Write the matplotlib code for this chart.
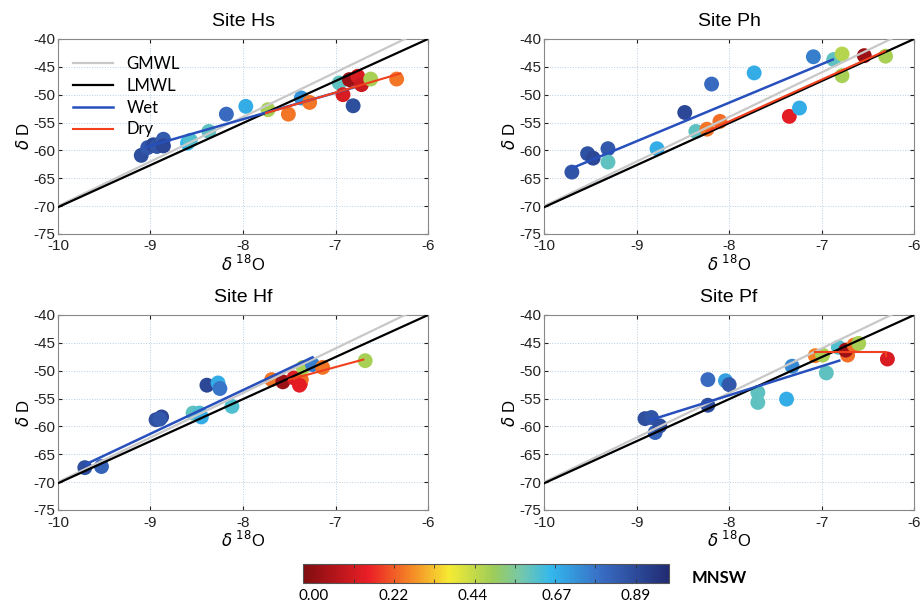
import matplotlib
matplotlib.use('Agg')
import matplotlib.pyplot as plt
from matplotlib.colors import LinearSegmentedColormap, Normalize
from matplotlib.cm import ScalarMappable

# ── Data ─────────────────────────────────────────────
# meteoric water lines (end points)
gmwl_x = [-10.0, -6.0]
gmwl_y = [-70.0, -38.0]
lmwl_x = [-10.0, -6.0]
lmwl_y = [-70.2, -40.0]

# Site Hs
hs_o = [-9.10, -9.03, -8.97, -8.93, -8.88, -8.86, -8.86, -8.60, -8.57, -8.37, -8.18, -7.97,
        -7.73, -7.51, -7.37, -7.28, -6.96, -6.92, -6.85, -6.76, -6.72, -6.81, -6.62, -6.34]
hs_d = [-60.9, -59.5, -59.0, -59.3, -58.6, -58.0, -59.2, -58.7, -58.2, -56.6, -53.5, -52.1,
        -52.7, -53.5, -50.6, -51.4, -47.9, -50.0, -47.3, -46.7, -48.2, -52.0, -47.2, -47.2]
hs_m = [0.88, 0.85, 0.90, 0.86, 0.88, 0.84, 0.90, 0.66, 0.62, 0.60, 0.80, 0.68,
        0.48, 0.25, 0.72, 0.25, 0.60, 0.12, 0.02, 0.12, 0.10, 0.88, 0.48, 0.25]
hs_wet_x = [-9.05, -6.80]
hs_wet_y = [-59.4, -48.7]
hs_dry_x = [-7.75, -6.30]
hs_dry_y = [-53.3, -46.2]

# Site Ph
ph_o = [-9.70, -9.53, -9.47, -9.31, -9.31, -8.78, -8.48, -8.36, -8.24, -8.10,
        -8.19, -7.73, -7.35, -7.24, -7.09, -6.87, -6.78, -6.78, -6.54, -6.31]
ph_d = [-63.9, -60.6, -61.4, -59.7, -62.1, -59.7, -53.2, -56.6, -56.2, -54.8,
        -48.1, -46.1, -53.9, -52.4, -43.2, -43.7, -42.7, -46.6, -43.0, -43.1]
ph_m = [0.86, 0.87, 0.90, 0.85, 0.60, 0.68, 0.90, 0.60, 0.25, 0.24,
        0.80, 0.68, 0.14, 0.68, 0.76, 0.60, 0.46, 0.48, 0.02, 0.48]
ph_wet_x = [-9.70, -6.88]
ph_wet_y = [-63.2, -43.7]
ph_dry_x = [-8.24, -6.32]
ph_dry_y = [-56.6, -42.2]

# Site Hf
hf_o = [-9.71, -9.53, -8.94, -8.88, -8.90, -8.54, -8.47, -8.45, -8.39, -8.27, -8.25,
        -8.12, -7.69, -7.57, -7.45, -7.38, -7.37, -7.39, -7.35, -7.25, -7.14, -6.68]
hf_d = [-67.4, -67.2, -58.8, -58.3, -58.7, -57.6, -57.6, -58.3, -52.6, -52.2, -53.2,
        -56.4, -51.6, -52.0, -51.3, -52.3, -51.6, -52.6, -49.4, -48.9, -49.4, -48.2]
hf_m = [0.88, 0.82, 0.88, 0.90, 0.85, 0.60, 0.62, 0.68, 0.90, 0.68, 0.78,
        0.62, 0.25, 0.02, 0.12, 0.12, 0.24, 0.14, 0.48, 0.76, 0.25, 0.48]
hf_wet_x = [-9.70, -7.25]
hf_wet_y = [-66.8, -47.6]
hf_dry_x = [-7.50, -6.70]
hf_dry_y = [-51.6, -48.0]

# Site Pf
pf_o = [-8.91, -8.84, -8.80, -8.75, -8.23, -8.23, -8.04, -8.00, -7.69, -7.69, -7.38,
        -7.32, -7.07, -6.99, -6.95, -6.82, -6.72, -6.74, -6.65, -6.60, -6.29]
pf_d = [-58.6, -58.4, -61.1, -59.9, -51.6, -56.2, -51.8, -52.5, -53.9, -55.7, -55.1,
        -49.2, -47.3, -47.2, -50.4, -45.8, -47.2, -46.3, -45.4, -45.1, -47.9]
pf_m = [0.88, 0.86, 0.82, 0.88, 0.80, 0.88, 0.70, 0.85, 0.60, 0.60, 0.68,
        0.74, 0.26, 0.48, 0.60, 0.62, 0.24, 0.02, 0.24, 0.48, 0.12]
pf_wet_x = [-8.85, -6.81]
pf_wet_y = [-58.85, -48.2]
pf_dry_x = [-7.07, -6.30, -6.30]
pf_dry_y = [-46.6, -46.6, -47.3]

sites = [
    ('Site Hs', hs_o, hs_d, hs_m, hs_wet_x, hs_wet_y, hs_dry_x, hs_dry_y),
    ('Site Ph', ph_o, ph_d, ph_m, ph_wet_x, ph_wet_y, ph_dry_x, ph_dry_y),
    ('Site Hf', hf_o, hf_d, hf_m, hf_wet_x, hf_wet_y, hf_dry_x, hf_dry_y),
    ('Site Pf', pf_o, pf_d, pf_m, pf_wet_x, pf_wet_y, pf_dry_x, pf_dry_y),
]

cbar_ticks = [0.0, 0.22, 0.44, 0.67, 0.89]
cbar_labels = ['0.00', '0.22', '0.44', '0.67', '0.89']

# ── Style ────────────────────────────────────────────
plt.rcParams['font.family'] = ['Liberation Sans', 'DejaVu Sans']
plt.rcParams['axes.unicode_minus'] = False

cmap = LinearSegmentedColormap.from_list('mnsw', [
    (0.00, (0.50, 0.05, 0.06)),
    (0.18, (0.92, 0.12, 0.15)),
    (0.30, (0.96, 0.55, 0.15)),
    (0.40, (0.96, 0.92, 0.20)),
    (0.52, (0.62, 0.80, 0.35)),
    (0.60, (0.45, 0.78, 0.68)),
    (0.68, (0.20, 0.72, 0.93)),
    (0.82, (0.22, 0.42, 0.76)),
    (1.00, (0.13, 0.17, 0.45)),
])
norm = Normalize(vmin=-0.03, vmax=0.98)

c_gmwl = '#c8c8c8'
c_lmwl = 'black'
c_wet = '#2750bc'
c_dry = '#f0401e'

fig = plt.figure(figsize=(9.23, 6.14), dpi=100)

positions = [
    [0.0628, 0.619, 0.401, 0.3176],
    [0.5895, 0.619, 0.401, 0.3176],
    [0.0628, 0.1694, 0.401, 0.3176],
    [0.5895, 0.1694, 0.401, 0.3176],
]

for pos, (title, xo, yd, mn, wx, wy, dx, dy) in zip(positions, sites):
    ax = fig.add_axes(pos)
    ax.grid(True, linestyle=':', color='#a8c4dc', linewidth=0.7, alpha=0.8)
    ax.set_axisbelow(True)

    ax.scatter(xo, yd, c=mn, cmap=cmap, norm=norm, s=115, edgecolors='none', zorder=2)

    ax.plot(gmwl_x, gmwl_y, color=c_gmwl, linewidth=1.6, label='GMWL', zorder=3)
    ax.plot(lmwl_x, lmwl_y, color=c_lmwl, linewidth=1.6, label='LMWL', zorder=3)
    ax.plot(wx, wy, color=c_wet, linewidth=1.8, label='Wet', zorder=4)
    ax.plot(dx, dy, color=c_dry, linewidth=1.5, label='Dry', zorder=4)

    ax.set_xlim(-10, -6)
    ax.set_ylim(-75, -40)
    ax.set_xticks([-10, -9, -8, -7, -6])
    ax.set_yticks(range(-75, -39, 5))
    ax.tick_params(direction='in', length=3, labelsize=11, colors='#222222',
                   top=True, right=True)
    ax.tick_params(axis='x', pad=4)
    ax.tick_params(axis='y', pad=2)
    for sp in ax.spines.values():
        sp.set_color('#888888')
        sp.set_linewidth(0.8)

    ax.set_title(title, fontsize=14, pad=9)
    ax.set_xlabel(r'$\delta$ $^{18}$O', fontsize=12, labelpad=0)
    ax.set_ylabel(r'$\delta$ D', fontsize=12, labelpad=1)

    if title == 'Site Hs':
        ax.legend(loc='upper left', bbox_to_anchor=(0.0, 0.99), frameon=False,
                  prop={'family': 'Lato', 'size': 12}, handlelength=2.4,
                  handletextpad=0.8, labelspacing=0.35, borderaxespad=0.5)

# ── Colorbar ─────────────────────────────────────────
cax = fig.add_axes([0.328, 0.0505, 0.3965, 0.031])
sm = ScalarMappable(norm=norm, cmap=cmap)
cb = fig.colorbar(sm, cax=cax, orientation='horizontal')
cb.outline.set_linewidth(0.8)
cb.outline.set_edgecolor('#555555')
cax.set_xticks(cbar_ticks)
cax.set_xticklabels(cbar_labels, fontfamily='Lato', fontsize=11)
cax.set_xticks([k / 9 for k in range(1, 9)], minor=True)
cax.tick_params(axis='x', which='major', length=0, pad=4)
cax.tick_params(axis='x', which='minor', length=3, direction='in',
                top=True, bottom=True, color='#333333')
fig.text(0.749, 0.059, 'MNSW', fontfamily='Lato', fontweight='bold', fontsize=12,
         va='center', ha='left')

fig.savefig('out.png', dpi=100)
